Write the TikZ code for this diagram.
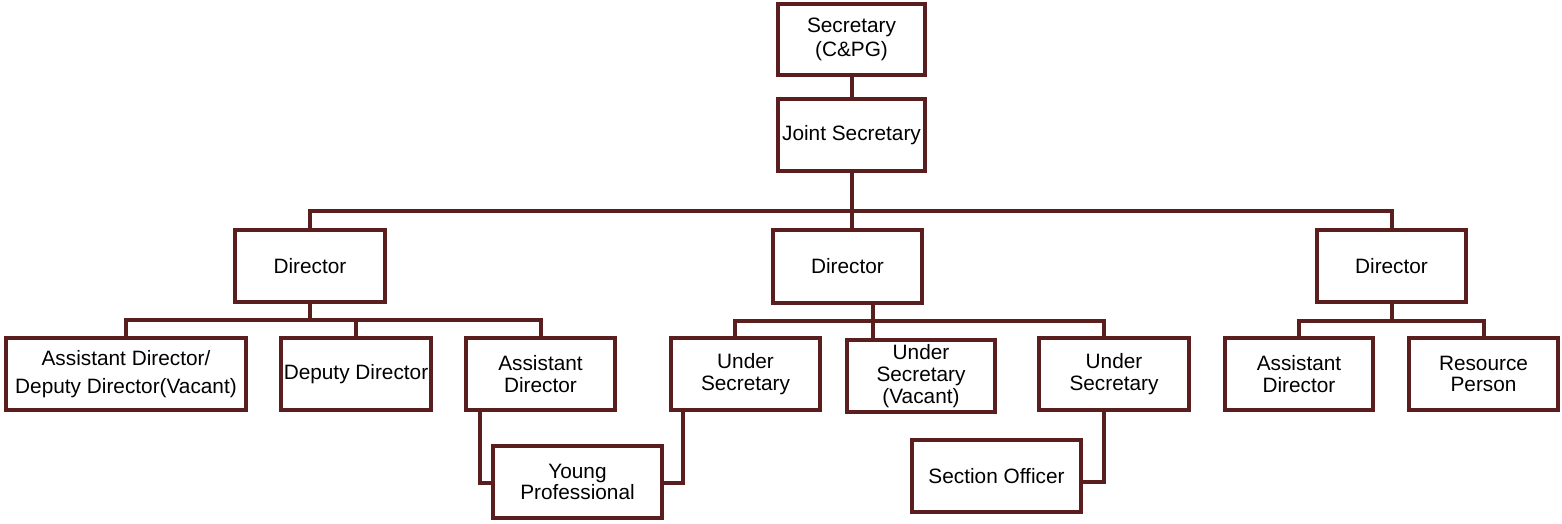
\documentclass[tikz,border=0pt]{standalone}
\usepackage{fontspec}
\setmainfont{Liberation Sans}
\definecolor{maroon}{RGB}{90,30,30}
\begin{document}
\begin{tikzpicture}[x=1pt,y=-1pt,
  box/.style={draw=maroon,line width=4pt,fill=white,minimum width=149pt,minimum height=72pt,
    inner sep=0pt,align=center,font=\fontsize{20.8}{21.7}\selectfont},
  conn/.style={draw=maroon,line width=4pt}]
\fill[white] (0,0) rectangle (1562,523);
\useasboundingbox (0,0) rectangle (1562,523);
\coordinate (bus) at (0,211);
\coordinate (sb1) at (0,319.5);
\coordinate (sb2) at (0,320.5);
% nodes
\node[box,minimum width=147pt,minimum height=71pt] (sec) at (851.5,39.5) {Secretary\\[2.5pt](C\&PG)};
\node[box,minimum width=147pt] (js) at (851.5,135) {Joint Secretary};
\node[box,minimum width=150pt] (d1) at (310,266) {Director};
\node[box,minimum height=73pt] (d2) at (847.5,266.5) {Director};
\node[box] (d3) at (1391.5,266) {Director};
\node[box,minimum width=240pt] (a1) at (126,374) {Assistant Director/\\[7pt]Deputy Director(Vacant)};
\node[box,minimum width=150pt] (a2) at (356,374) {Deputy Director};
\node[box] (a3) at (540.5,374) {Assistant\\Director};
\node[box] (u1) at (745.5,374) {Under\\Secretary};
\node[box,minimum width=148pt] (u2) at (921,376) {Under\\Secretary\\(Vacant)};
\node[box,minimum width=150pt] (u3) at (1114,374) {Under\\Secretary};
\node[box,minimum width=148pt] (r1) at (1299,374) {Assistant\\Director};
\node[box] (r2) at (1483.5,374) {Resource\\Person};
\node[box,minimum width=169pt] (yp) at (577.5,482) {Young\\Professional};
\node[box,minimum width=169pt] (so) at (996.5,476) {Section Officer};
% connectors
\draw[conn] (sec.south) -- (js.north);
\draw[conn] (js.south) -- (js.south |- bus);
\draw[conn] (d1.north) |- (d3.north |- bus) -- (d3.north);
\draw[conn] (js.south |- bus) -- (js.south |- d2.north);
\draw[conn] (d1.south) -- (d1.south |- sb1);
\draw[conn] (a1.north) |- (a3.north |- sb1) -- (a3.north);
\draw[conn] (a2.north) -- (a2.north |- sb1);
\draw[conn] ([xshift=25.5pt]d2.south) -- ([xshift=25.5pt]d2.south |- sb2);
\draw[conn] ([xshift=-10.5pt]u1.north) |- ([xshift=-10pt]u3.north |- sb2) -- ([xshift=-10pt]u3.north);
\draw[conn] ([xshift=-48pt]u2.north) -- ([xshift=-48pt]u2.north |- sb2);
\draw[conn] (d3.south) -- (d3.south |- sb2);
\draw[conn] (r1.north) |- (r2.north |- sb2) -- (r2.north);
\draw[conn] ([xshift=-60.5pt]a3.south) |- ([yshift=-0.5pt]yp.west);
\draw[conn] ([xshift=-62.5pt]u1.south) |- ([yshift=-0.5pt]yp.east);
\draw[conn] ([xshift=-10pt]u3.south) |- ([yshift=-5.5pt]so.east);
\end{tikzpicture}
\end{document}
